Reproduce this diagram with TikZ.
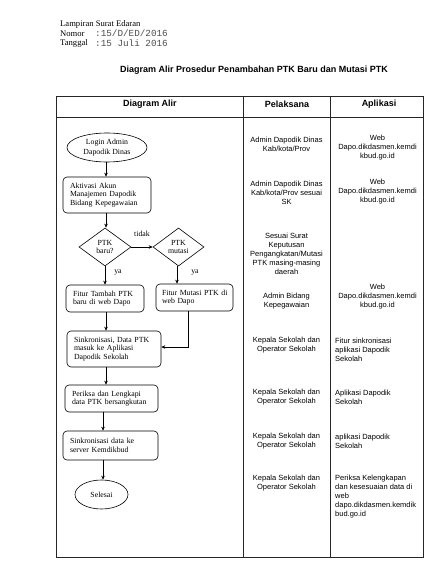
\documentclass[tikz,border=0pt]{standalone}
\usepackage{fontspec}
\setmainfont{Liberation Serif}
\newfontfamily\arialf{Liberation Sans}
\newfontfamily\monof{Liberation Mono}
\usetikzlibrary{shapes.geometric,arrows.meta,calc}
\begin{document}
\begin{tikzpicture}[x=1pt,y=-1pt,
  flowbox/.style={draw, rounded corners=4pt, line width=0.6pt, align=left, inner xsep=7pt, inner ysep=0pt, font=\fontsize{7.8}{8.6}\selectfont},
  term/.style={draw, ellipse, line width=0.6pt, align=center, inner sep=0pt, font=\fontsize{7.8}{10.5}\selectfont},
  decision/.style={draw, diamond, line width=0.6pt, align=center, inner sep=0pt, font=\fontsize{7.8}{8.6}\selectfont},
  arr/.style={-{Stealth[length=4pt,width=3.5pt]}, line width=0.6pt},
  lbl/.style={inner sep=0pt, font=\fontsize{7.8}{8.6}\selectfont},
  pel/.style={font=\arialf\fontsize{7.5}{9}\selectfont, align=center, inner sep=0pt},
  apl/.style={font=\arialf\fontsize{7.5}{9}\selectfont, align=left, inner sep=0pt, anchor=west},
  head/.style={font=\arialf\bfseries\fontsize{9}{11}\selectfont, inner sep=0pt},
  tab/.style={line width=0.6pt, draw=black!85}
]
\useasboundingbox (0,0) rectangle (447,577);

% letter header
\node[anchor=west, inner sep=0pt, font=\fontsize{8.6}{10}\selectfont] (lamp) at (60,24) {Lampiran Surat Edaran};
\node[anchor=west, inner sep=0pt, font=\fontsize{8.6}{10}\selectfont] (nom) at (60,33.5) {Nomor};
\node[anchor=west, inner sep=0pt, text=black!70, font=\monof\fontsize{9.3}{10}\selectfont] (nomv) at (95,33.5) {:15/D/ED/2016};
\node[anchor=west, inner sep=0pt, font=\fontsize{8.6}{10}\selectfont] (tgl) at (60,43.5) {Tanggal};
\node[anchor=west, inner sep=0pt, text=black!70, font=\monof\fontsize{9.3}{10}\selectfont] (tglv) at (95,43.5) {:15 Juli 2016};

% title
\node[head] (title) at (254,70) {Diagram Alir Prosedur Penambahan PTK Baru dan Mutasi PTK};

% table
\draw[tab] (56,96) rectangle (423,557);
\draw[tab] (56,117) -- (423,117);
\draw[tab] (243,96) -- (243,557);
\draw[tab] (330,96) -- (330,557);
\node[head] (h1) at (150,104) {Diagram Alir};
\node[head] (h2) at (287,104) {Pelaksana};
\node[head] (h3) at (379,104) {Aplikasi};

% flowchart
\node[term, minimum width=80pt, minimum height=29pt] (login) at (107,147.5) {Login Admin\\Dapodik Dinas};
\node[flowbox, minimum width=88pt, minimum height=36pt, text width=74pt] (aktiv) at (107,195) {Aktivasi Akun\\Manajemen Dapodik\\Bidang Kepegawaian};
\node[decision, minimum width=52pt, minimum height=38pt] (baru) at (105,247) {PTK\\baru?};
\node[decision, minimum width=51pt, minimum height=38pt] (mut) at (178.5,247) {PTK\\mutasi};
\node[flowbox, minimum width=78pt, minimum height=27pt, text width=64pt] (tambah) at (105,298.5) {Fitur Tambah PTK\\baru di web Dapo};
\node[flowbox, minimum width=77pt, minimum height=27pt, inner xsep=6pt, text width=65pt] (mutbox) at (194.5,297.5) {\mbox{Fitur Mutasi PTK di}\\web Dapo};
\node[flowbox, minimum width=94pt, minimum height=36pt, text width=80pt] (sink) at (114,349) {Sinkronisasi, Data PTK\\masuk ke Aplikasi\\Dapodik Sekolah};
\node[flowbox, minimum width=93pt, minimum height=27pt, text width=79pt] (periksa) at (111.5,398.5) {Periksa dan Lengkapi\\data PTK bersangkutan};
\node[flowbox, minimum width=95pt, minimum height=29pt, text width=81pt] (sinkdata) at (110.5,445.5) {Sinkronisasi data ke\\server Kemdikbud};
\node[term, minimum width=53pt, minimum height=29pt] (selesai) at (101.5,494.5) {Selesai};

\coordinate (xa) at (106,0);
\coordinate (xb) at (105,0);
\coordinate (xc) at (103,0);
\coordinate (xm) at (177,0);
\coordinate (xr) at (188,0);

\draw[arr] (login.south -| xa) -- (aktiv.north -| xa);
\draw[arr] (aktiv.south -| xa) -- (baru.north -| xa);
\draw[arr] (baru.east) -- (mut.west);
\draw[arr] (baru.south) -- (tambah.north -| xb);
\draw[arr] (mut.south -| xm) -- (mutbox.north -| xm);
\draw[arr] (tambah.south -| xa) -- (sink.north -| xa);
\draw[arr] (mutbox.south -| xr) |- ($(sink.east)+(0,-2)$);
\draw[arr] (sink.south -| xa) -- (periksa.north -| xa);
\draw[arr] (periksa.south -| xc) -- (sinkdata.north -| xc);
\draw[arr] (sinkdata.south -| xc) -- (selesai.north -| xc);

\node[lbl] (ltidak) at (142,234) {tidak};
\node[lbl] (lya1) at (118,273) {ya};
\node[lbl] (lya2) at (195,273) {ya};

% Pelaksana column
\node[pel] (p1) at (286.5,144.5) {Admin Dapodik Dinas\\Kab/kota/Prov};
\node[pel] (p2) at (286.5,192.5) {Admin Dapodik Dinas\\Kab/kota/Prov sesuai\\SK};
\node[pel] (p3) at (286.5,254) {Sesuai Surat\\Keputusan\\Pengangkatan/Mutasi\\PTK masing-masing\\daerah};
\node[pel] (p4) at (286.5,301.5) {Admin Bidang\\Kepegawaian};
\node[pel] (p5) at (286.5,345.5) {Kepala Sekolah dan\\Operator Sekolah};
\node[pel] (p6) at (286.5,397.5) {Kepala Sekolah dan\\Operator Sekolah};
\node[pel] (p7) at (286.5,441) {Kepala Sekolah dan\\Operator Sekolah};
\node[pel] (p8) at (286.5,483.5) {Kepala Sekolah dan\\Operator Sekolah};

% Aplikasi column
\node[pel] (a1) at (377.5,148) {Web\\Dapo.dikdasmen.kemdi\\kbud.go.id};
\node[pel] (a2) at (377.5,192) {Web\\Dapo.dikdasmen.kemdi\\kbud.go.id};
\node[pel] (a4) at (377.5,297) {Web\\Dapo.dikdasmen.kemdi\\kbud.go.id};
\node[apl] (a5) at (335,350) {Fitur sinkronisasi\\aplikasi Dapodik\\Sekolah};
\node[apl] (a6) at (335,397.5) {Aplikasi Dapodik\\Sekolah};
\node[apl] (a7) at (335,441) {aplikasi Dapodik\\Sekolah};
\node[apl] (a8) at (335,497) {Periksa Kelengkapan\\dan kesesuaian data di\\web\\dapo.dikdasmen.kemdik\\bud.go.id};
\end{tikzpicture}
\end{document}
